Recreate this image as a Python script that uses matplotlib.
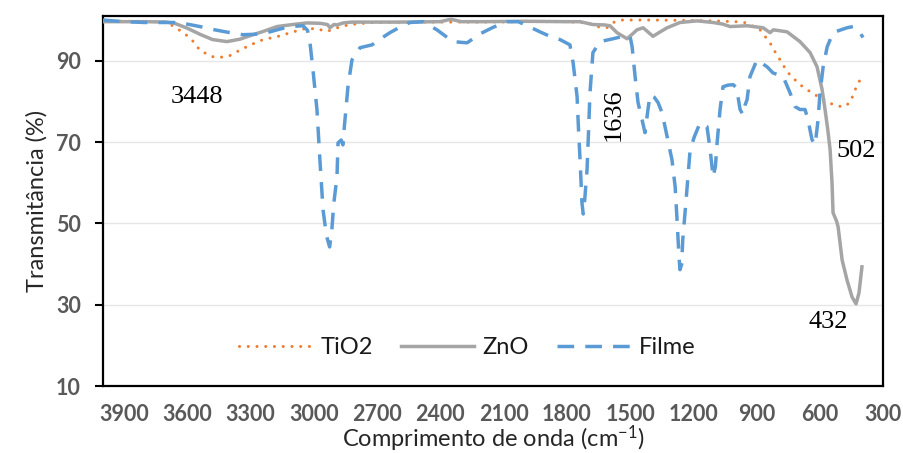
import matplotlib
matplotlib.use("Agg")
import matplotlib.pyplot as plt

plt.rcParams['mathtext.fontset'] = 'custom'
plt.rcParams['mathtext.rm'] = 'Lato'
plt.rcParams['mathtext.it'] = 'Lato'

# TiO2 spectrum (wavenumber, transmittance)
tio2_x = [4000, 3900, 3800, 3700, 3660, 3625, 3597, 3565, 3540, 3480, 3448, 3400,
          3365, 3300, 3240, 3175, 3110, 3050, 2990, 2937, 2890, 2830, 2720, 2500,
          2200, 2000, 1800, 1700, 1657, 1610, 1580, 1540, 1400, 1200, 1100, 1000,
          945, 900, 883, 860, 836, 810, 788, 755, 727, 694, 646, 599, 537, 489,
          456, 432, 409, 400]
tio2_y = [99.8, 99.7, 99.7, 99.5, 98.3, 97.1, 96.0, 94.4, 92.5, 91.0, 90.8, 91.2,
          92.2, 93.9, 95.2, 95.9, 96.9, 97.8, 97.9, 97.2, 98.1, 98.9, 99.4, 99.5,
          99.5, 99.6, 99.6, 99.3, 98.4, 98.1, 99.4, 100.0, 100.0, 99.9, 99.8, 99.6,
          99.3, 98.0, 97.6, 96.0, 94.4, 92.0, 90.2, 87.3, 85.8, 84.1, 82.4, 80.9,
          79.2, 78.6, 79.7, 82.9, 85.3, 87.0]

# ZnO spectrum
zno_x = [4000, 3900, 3800, 3700, 3660, 3600, 3540, 3480, 3412, 3350, 3300, 3240,
         3175, 3100, 3032, 2970, 2935, 2923, 2905, 2890, 2860, 2820, 2600, 2400,
         2350, 2300, 2200, 2000, 1800, 1737, 1676, 1620, 1595, 1562, 1514, 1490,
         1467, 1438, 1391, 1360, 1324, 1263, 1182, 1106, 1060, 1025, 945, 869,
         836, 820, 755, 694, 646, 613, 589, 575, 562, 551, 542, 537, 520, 513,
         494, 471, 447, 428, 414, 400]
zno_y = [99.6, 99.6, 99.6, 99.5, 99.2, 98.0, 96.5, 95.2, 94.7, 95.3, 96.2, 97.2,
         98.4, 98.9, 99.3, 99.2, 98.9, 98.1, 98.9, 98.8, 99.3, 99.5, 99.5, 99.6,
         100.2, 99.6, 99.6, 99.7, 99.6, 99.6, 98.9, 98.8, 98.6, 96.9, 95.4, 96.5,
         97.6, 98.1, 96.0, 97.0, 98.1, 99.4, 99.8, 99.4, 99.0, 98.4, 98.6, 98.1,
         96.9, 97.6, 97.1, 94.7, 92.0, 88.5, 82.9, 78.0, 73.0, 68.1, 60.0, 52.6,
         50.5, 49.1, 41.0, 36.1, 31.9, 30.2, 32.9, 39.3]

# Filme spectrum
filme_x = [4000, 3900, 3800, 3700, 3658, 3600, 3540, 3470, 3398, 3336, 3280, 3222,
           3160, 3113, 3051, 3030, 3018, 3004, 2985, 2971, 2956, 2940, 2925, 2915,
           2905, 2890, 2885, 2870, 2862, 2855, 2838, 2819, 2781, 2724, 2680, 2639,
           2590, 2544, 2482, 2416, 2340, 2273, 2212, 2150, 2083, 2030, 1980, 1927,
           1880, 1832, 1785, 1770, 1751, 1745, 1737, 1728, 1722, 1715, 1704, 1697,
           1690, 1676, 1642, 1581, 1533, 1500, 1490, 1476, 1462, 1443, 1429, 1415,
           1405, 1385, 1367, 1348, 1324, 1301, 1286, 1277, 1268, 1263, 1255, 1250,
           1234, 1215, 1195, 1168, 1135, 1120, 1106, 1095, 1087, 1073, 1059, 1035,
           1011, 995, 978, 964, 955, 945, 931, 898, 850, 822, 774, 741, 717, 694,
           670, 656, 637, 622, 608, 599, 584, 565, 537, 505, 471, 442, 409, 395]
filme_y = [100.0, 99.6, 99.4, 99.4, 99.4, 99.0, 98.4, 97.6, 96.9, 96.4, 96.5, 96.9,
           97.8, 98.4, 98.6, 97.5, 94.4, 87.8, 78.0, 65.6, 53.3, 47.0, 44.2, 48.0,
           55.0, 61.4, 69.8, 70.5, 69.3, 73.8, 83.6, 90.2, 93.2, 93.9, 95.5, 96.9,
           98.3, 99.4, 99.6, 97.6, 94.7, 94.4, 96.6, 98.2, 99.6, 99.6, 98.4, 97.1,
           96.0, 95.2, 93.9, 89.5, 81.1, 73.8, 65.6, 55.0, 52.3, 55.8, 63.1, 72.3,
           82.1, 92.0, 94.7, 95.4, 96.0, 96.0, 93.4, 86.1, 79.7, 75.5, 72.3, 78.0,
           81.6, 81.0, 79.7, 77.2, 71.3, 65.6, 59.0, 50.9, 42.0, 38.6, 40.0, 45.9,
           55.8, 68.1, 71.3, 74.7, 73.8, 68.1, 61.4, 64.0, 69.8, 78.0, 83.6, 84.0,
           84.1, 83.4, 78.0, 76.7, 79.0, 80.4, 86.1, 90.2, 88.5, 87.0, 86.1, 82.1,
           78.7, 78.0, 78.0, 75.5, 70.6, 69.3, 75.5, 82.1, 88.5, 93.4, 96.9, 97.5,
           98.1, 98.4, 96.9, 95.7]

xticks = [3900, 3600, 3300, 3000, 2700, 2400, 2100, 1800, 1500, 1200, 900, 600, 300]
yticks = [10, 30, 50, 70, 90]

# peak labels
peak_labels = ["3448", "1636", "502", "432"]
peak_pos = [(3554, 81.1), (1576, 76.7), (428, 67.8), (561, 25.8)]
peak_rot = [0, 90, 0, 0]

fig = plt.figure(figsize=(9.04, 4.53), dpi=100)
ax = fig.add_axes([0.1139, 0.1479, 0.8629, 0.8168])

ax.plot(tio2_x, tio2_y, color='#ED7D31', lw=2.2, linestyle=(0, (0.01, 2.85)),
        dash_capstyle='round', label='TiO2', zorder=3)
ax.plot(zno_x, zno_y, color='#A5A5A5', lw=2.5, label='ZnO', zorder=4)
ax.plot(filme_x, filme_y, color='#5B9BD5', lw=2.5, linestyle=(0, (4.8, 3.2)),
        label='Filme', zorder=5)

ax.set_xlim(4000, 300)
ax.set_ylim(10, 101)
ax.set_xticks(xticks)
ax.set_yticks(yticks)
ax.grid(axis='y', color='#E6E6E6', lw=1.0, zorder=0)
ax.set_axisbelow(True)

for sp in ax.spines.values():
    sp.set_color('black')
    sp.set_linewidth(1.6)

ax.tick_params(axis='x', length=0, pad=13, labelsize=15.5, labelcolor='#595959')
ax.tick_params(axis='y', length=6, width=1.5, pad=10, labelsize=15.5, labelcolor='#595959')
for lbl in ax.get_xticklabels() + ax.get_yticklabels():
    lbl.set_fontfamily('Lato')
    lbl.set_fontweight('bold')

ax.set_xlabel('Comprimento de onda (cm$^{-1}$)', fontsize=17, family='Lato',
              color='#262626', labelpad=-1)
ax.set_ylabel('Transmitância (%)', fontsize=17, family='Lato', color='#262626',
              labelpad=6)

for txt, (px, py), rot in zip(peak_labels, peak_pos, peak_rot):
    ax.text(px, py, txt, fontsize=19, family='Liberation Serif', color='black',
            ha='center', va='center', rotation=rot, zorder=6)

leg = ax.legend(loc='center', bbox_to_anchor=(0.467, 0.103), ncol=3, frameon=False,
                prop={'family': 'Lato', 'size': 17}, handlelength=3.1,
                handletextpad=0.35, columnspacing=1.2)
for t in leg.get_texts():
    t.set_color('#1a1a1a')

fig.savefig('out.png', dpi=100)
